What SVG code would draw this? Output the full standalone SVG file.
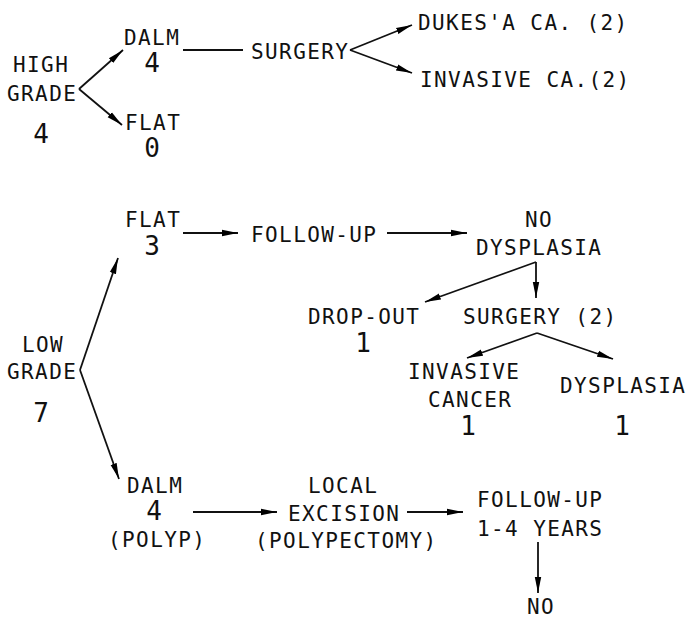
<svg xmlns="http://www.w3.org/2000/svg" width="686" height="620" viewBox="0 0 686 620">
<defs>
<marker id="ah" viewBox="0 0 16 8" markerWidth="16" markerHeight="8" refX="16" refY="4" orient="auto" markerUnits="userSpaceOnUse">
<path d="M0,0.8 L16,4 L0,7.2 z" fill="#000"/>
</marker>
<style>
text{font-family:"DejaVu Sans Mono","Liberation Mono",monospace;fill:#111;}
.t{font-size:21px;letter-spacing:1.4px;}
.n{font-size:26px;text-anchor:middle;}
.c{stroke:#111;stroke-width:1.8;fill:none;}
.a{marker-end:url(#ah);}
</style>
</defs>
<rect width="686" height="620" fill="#fff"/>
<g id="connectors">
<line class="c a" x1="79" y1="89" x2="123" y2="50"/>
<line class="c a" x1="79" y1="89" x2="122" y2="125"/>
<line class="c" x1="183" y1="50" x2="243" y2="50"/>
<line class="c a" x1="350" y1="50" x2="412" y2="25"/>
<line class="c a" x1="350" y1="50" x2="412" y2="73"/>
<line class="c a" x1="183" y1="233" x2="238" y2="233"/>
<line class="c a" x1="387" y1="233" x2="467" y2="233"/>
<line class="c a" x1="536" y1="262" x2="425" y2="302"/>
<line class="c a" x1="536" y1="262" x2="536" y2="298"/>
<line class="c a" x1="537" y1="333" x2="467" y2="358"/>
<line class="c a" x1="537" y1="333" x2="613" y2="359"/>
<line class="c a" x1="80" y1="370" x2="118" y2="258"/>
<line class="c a" x1="80" y1="370" x2="119" y2="479"/>
<line class="c a" x1="193" y1="512" x2="277" y2="512"/>
<line class="c a" x1="407" y1="512" x2="463" y2="512"/>
<line class="c a" x1="538" y1="542" x2="538" y2="593"/>
</g>
<g id="high-grade"><text class="t" x="13" y="72">HIGH</text><text class="t" x="7" y="101">GRADE</text><text class="n" x="41" y="143">4</text></g>
<g id="hg-dalm"><text class="t" x="124" y="45">DALM</text><text class="n" x="152" y="72">4</text></g>
<g id="hg-flat"><text class="t" x="125" y="130">FLAT</text><text class="n" x="152" y="157">0</text></g>
<g id="hg-surgery"><text class="t" x="251" y="59">SURGERY</text></g>
<g id="dukes"><text class="t" x="418" y="30">DUKES'A CA. (2)</text></g>
<g id="invasive-ca"><text class="t" x="420" y="87">INVASIVE CA.(2)</text></g>
<g id="low-grade"><text class="t" x="22" y="352">LOW</text><text class="t" x="7" y="379">GRADE</text><text class="n" x="41" y="422">7</text></g>
<g id="lg-flat"><text class="t" x="125" y="227">FLAT</text><text class="n" x="152" y="255">3</text></g>
<g id="lg-followup"><text class="t" x="251" y="242">FOLLOW-UP</text></g>
<g id="no-dysplasia"><text class="t" x="525" y="227">NO</text><text class="t" x="476" y="255">DYSPLASIA</text></g>
<g id="dropout"><text class="t" x="308" y="324">DROP-OUT</text><text class="n" x="363" y="352">1</text></g>
<g id="lg-surgery"><text class="t" x="463" y="324">SURGERY (2)</text></g>
<g id="invasive-cancer"><text class="t" x="408" y="379">INVASIVE</text><text class="t" x="428" y="407">CANCER</text><text class="n" x="468" y="435">1</text></g>
<g id="dysplasia"><text class="t" x="560" y="393">DYSPLASIA</text><text class="n" x="622" y="435">1</text></g>
<g id="lg-dalm"><text class="t" x="127" y="493">DALM</text><text class="n" x="154" y="520">4</text><text class="t" x="108" y="547">(POLYP)</text></g>
<g id="local-excision"><text class="t" x="308" y="493">LOCAL</text><text class="t" x="288" y="521">EXCISION</text><text class="t" x="255" y="548">(POLYPECTOMY)</text></g>
<g id="followup-years"><text class="t" x="477" y="507">FOLLOW-UP</text><text class="t" x="477" y="536">1-4 YEARS</text></g>
<g id="no"><text class="t" x="527" y="614">NO</text></g>
</svg>
